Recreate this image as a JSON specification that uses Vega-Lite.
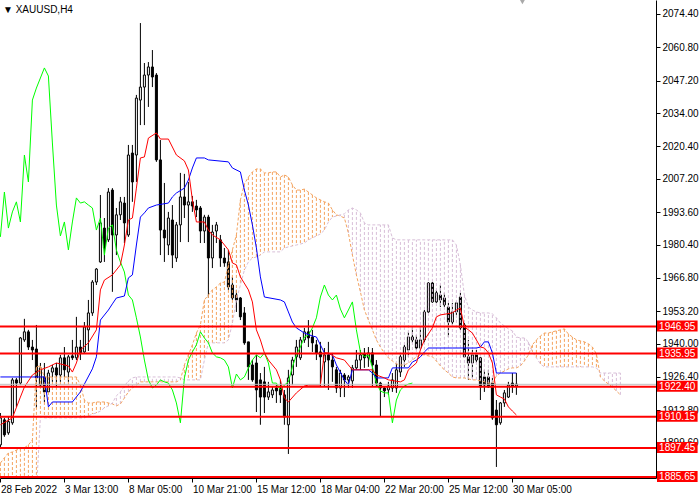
{
  "$schema": "https://vega.github.io/schema/vega-lite/v6.json",
  "width": 656,
  "height": 478,
  "autosize": {"type": "none"},
  "padding": {"left": 0, "top": 0, "right": 44, "bottom": 22},
  "background": "white",
  "datasets": {
    "bars": [
      {"i":0,"o":1898.7,"h":1911.7,"l":1897.5,"c":1909.7},{"i":1,"o":1908.9,"h":1909.7,"l":1902.0,"c":1902.8},{"i":2,"o":1903.6,"h":1910.2,"l":1902.8,"c":1908.2},{"i":3,"o":1907.7,"h":1926.0,"l":1906.9,"c":1925.2},{"i":4,"o":1925.2,"h":1926.0,"l":1914.2,"c":1923.9},
      {"i":5,"o":1923.9,"h":1942.7,"l":1923.1,"c":1942.3},{"i":6,"o":1941.5,"h":1950.1,"l":1940.7,"c":1944.8},{"i":7,"o":1944.8,"h":1945.6,"l":1937.4,"c":1938.6},{"i":8,"o":1938.6,"h":1941.5,"l":1933.3,"c":1937.4},{"i":9,"o":1937.8,"h":1947.6,"l":1913.8,"c":1926.0},
      {"i":10,"o":1923.1,"h":1932.1,"l":1922.3,"c":1930.1},{"i":11,"o":1926.4,"h":1932.1,"l":1916.2,"c":1920.3},{"i":12,"o":1920.3,"h":1929.3,"l":1919.9,"c":1928.0},{"i":13,"o":1928.4,"h":1931.3,"l":1924.4,"c":1930.1},{"i":14,"o":1930.1,"h":1932.1,"l":1922.3,"c":1927.2},
      {"i":15,"o":1927.2,"h":1935.4,"l":1924.4,"c":1934.2},{"i":16,"o":1934.2,"h":1938.6,"l":1926.4,"c":1929.3},{"i":17,"o":1928.4,"h":1935.4,"l":1924.4,"c":1934.6},{"i":18,"o":1935.0,"h":1941.5,"l":1933.3,"c":1934.2},{"i":19,"o":1934.2,"h":1950.9,"l":1933.3,"c":1938.6},
      {"i":20,"o":1938.6,"h":1941.5,"l":1933.3,"c":1936.2},{"i":21,"o":1936.6,"h":1948.8,"l":1936.2,"c":1946.8},{"i":22,"o":1945.6,"h":1957.8,"l":1937.0,"c":1952.5},{"i":23,"o":1952.5,"h":1965.9,"l":1951.3,"c":1965.1},{"i":24,"o":1965.1,"h":1970.8,"l":1963.9,"c":1970.4},
      {"i":25,"o":1973.3,"h":2000.6,"l":1972.9,"c":1989.2},{"i":26,"o":1987.1,"h":1991.2,"l":1973.3,"c":1979.0},{"i":27,"o":1982.3,"h":2003.4,"l":1981.4,"c":2001.8},{"i":28,"o":2002.6,"h":2003.4,"l":1961.1,"c":1984.3},{"i":29,"o":1984.3,"h":1995.3,"l":1976.1,"c":1992.5},
      {"i":30,"o":1992.5,"h":1999.8,"l":1990.4,"c":1997.8},{"i":31,"o":1997.3,"h":1999.8,"l":1981.0,"c":1989.2},{"i":32,"o":1984.3,"h":2021.0,"l":1983.5,"c":2016.9},{"i":33,"o":2017.7,"h":2021.0,"l":1997.8,"c":2005.9},{"i":34,"o":2016.9,"h":2041.4,"l":2005.9,"c":2040.1},
      {"i":35,"o":2039.3,"h":2070.7,"l":2029.1,"c":2044.6},{"i":36,"o":2044.6,"h":2054.4,"l":2029.1,"c":2049.5},{"i":37,"o":2049.5,"h":2054.8,"l":2036.5,"c":2052.8},{"i":38,"o":2052.8,"h":2059.7,"l":2044.6,"c":2048.7},{"i":39,"o":2049.5,"h":2050.3,"l":2014.1,"c":2014.9},
      {"i":40,"o":2014.9,"h":2023.0,"l":1976.1,"c":1986.3},{"i":41,"o":1986.3,"h":2005.5,"l":1973.3,"c":1983.1},{"i":42,"o":1980.2,"h":1993.7,"l":1976.1,"c":1991.2},{"i":43,"o":1990.4,"h":1996.5,"l":1970.8,"c":1976.1},{"i":44,"o":1974.9,"h":1989.6,"l":1973.3,"c":1988.4},
      {"i":45,"o":1988.4,"h":2009.6,"l":1981.4,"c":1999.8},{"i":46,"o":1999.8,"h":2009.2,"l":1991.2,"c":1996.5},{"i":47,"o":1996.5,"h":2005.9,"l":1981.4,"c":1997.8},{"i":48,"o":1997.8,"h":2000.2,"l":1993.7,"c":1996.1},{"i":49,"o":1996.1,"h":1998.6,"l":1991.6,"c":1994.5},
      {"i":50,"o":1995.3,"h":1996.1,"l":1981.0,"c":1985.9},{"i":51,"o":1985.9,"h":1992.5,"l":1981.0,"c":1991.6},{"i":52,"o":1991.6,"h":1992.5,"l":1958.6,"c":1974.9},{"i":53,"o":1974.9,"h":1988.4,"l":1970.8,"c":1985.5},{"i":54,"o":1985.9,"h":1989.6,"l":1981.0,"c":1988.4},
      {"i":55,"o":1982.3,"h":1984.3,"l":1971.3,"c":1974.9},{"i":56,"o":1974.9,"h":1979.0,"l":1971.3,"c":1972.9},{"i":57,"o":1973.3,"h":1978.2,"l":1961.9,"c":1963.1},{"i":58,"o":1963.9,"h":1967.2,"l":1957.8,"c":1958.6},{"i":59,"o":1959.8,"h":1961.9,"l":1952.9,"c":1957.8},
      {"i":60,"o":1958.6,"h":1959.0,"l":1949.6,"c":1950.9},{"i":61,"o":1952.5,"h":1954.9,"l":1939.5,"c":1940.3},{"i":62,"o":1940.7,"h":1940.7,"l":1925.2,"c":1930.5},{"i":63,"o":1931.3,"h":1933.3,"l":1924.4,"c":1925.2},{"i":64,"o":1932.1,"h":1935.4,"l":1912.1,"c":1921.1},
      {"i":65,"o":1925.2,"h":1928.0,"l":1906.9,"c":1918.2},{"i":66,"o":1924.4,"h":1930.5,"l":1911.7,"c":1918.2},{"i":67,"o":1918.2,"h":1924.4,"l":1917.0,"c":1920.3},{"i":68,"o":1919.1,"h":1922.3,"l":1917.8,"c":1921.1},{"i":69,"o":1921.9,"h":1923.1,"l":1915.8,"c":1920.7},
      {"i":70,"o":1921.9,"h":1925.2,"l":1915.8,"c":1919.1},{"i":71,"o":1919.1,"h":1921.1,"l":1906.9,"c":1910.1},{"i":72,"o":1906.9,"h":1929.3,"l":1895.0,"c":1926.0},{"i":73,"o":1927.2,"h":1934.6,"l":1923.1,"c":1933.3},{"i":74,"o":1934.6,"h":1941.5,"l":1930.5,"c":1938.6},
      {"i":75,"o":1934.2,"h":1942.7,"l":1933.3,"c":1941.5},{"i":76,"o":1941.5,"h":1946.4,"l":1940.3,"c":1944.8},{"i":77,"o":1944.8,"h":1949.6,"l":1938.6,"c":1942.3},{"i":78,"o":1942.7,"h":1945.6,"l":1936.6,"c":1940.3},{"i":79,"o":1939.5,"h":1941.5,"l":1933.3,"c":1936.2},
      {"i":80,"o":1936.6,"h":1940.7,"l":1922.3,"c":1934.6},{"i":81,"o":1932.5,"h":1938.2,"l":1922.3,"c":1935.4},{"i":82,"o":1935.4,"h":1940.7,"l":1921.1,"c":1933.3},{"i":83,"o":1933.3,"h":1936.2,"l":1924.4,"c":1930.5},{"i":84,"o":1929.3,"h":1930.5,"l":1919.9,"c":1921.9},
      {"i":85,"o":1921.9,"h":1929.3,"l":1918.2,"c":1928.0},{"i":86,"o":1927.2,"h":1928.0,"l":1918.2,"c":1925.2},{"i":87,"o":1925.2,"h":1927.2,"l":1921.9,"c":1926.4},{"i":88,"o":1924.8,"h":1931.3,"l":1921.9,"c":1930.1},{"i":89,"o":1930.1,"h":1937.4,"l":1929.3,"c":1933.3},
      {"i":90,"o":1933.3,"h":1937.4,"l":1929.3,"c":1935.4},{"i":91,"o":1935.8,"h":1938.2,"l":1930.1,"c":1934.2},{"i":92,"o":1934.2,"h":1938.6,"l":1930.5,"c":1936.2},{"i":93,"o":1936.2,"h":1938.2,"l":1922.3,"c":1931.3},{"i":94,"o":1931.3,"h":1933.3,"l":1922.3,"c":1923.9},
      {"i":95,"o":1923.9,"h":1924.4,"l":1910.1,"c":1921.9},{"i":96,"o":1921.9,"h":1922.3,"l":1918.2,"c":1920.7},{"i":97,"o":1921.1,"h":1924.4,"l":1919.1,"c":1922.7},{"i":98,"o":1921.9,"h":1928.0,"l":1920.3,"c":1925.2},{"i":99,"o":1921.9,"h":1932.1,"l":1919.9,"c":1929.3},
      {"i":100,"o":1928.4,"h":1936.2,"l":1926.4,"c":1934.6},{"i":101,"o":1933.3,"h":1939.5,"l":1930.5,"c":1938.6},{"i":102,"o":1937.4,"h":1944.8,"l":1934.6,"c":1942.7},{"i":103,"o":1942.7,"h":1946.8,"l":1940.3,"c":1941.5},{"i":104,"o":1941.5,"h":1943.5,"l":1937.4,"c":1938.2},
      {"i":105,"o":1938.2,"h":1946.8,"l":1937.4,"c":1941.5},{"i":106,"o":1941.5,"h":1953.7,"l":1940.3,"c":1952.9},{"i":107,"o":1952.9,"h":1965.1,"l":1952.5,"c":1964.7},{"i":108,"o":1964.7,"h":1965.1,"l":1956.6,"c":1957.0},{"i":109,"o":1957.0,"h":1961.9,"l":1956.6,"c":1960.7},
      {"i":110,"o":1959.8,"h":1963.9,"l":1954.9,"c":1957.8},{"i":111,"o":1958.6,"h":1960.7,"l":1954.9,"c":1955.8},{"i":112,"o":1954.9,"h":1956.6,"l":1942.7,"c":1948.8},{"i":113,"o":1948.8,"h":1956.6,"l":1947.6,"c":1952.9},{"i":114,"o":1952.9,"h":1957.0,"l":1951.7,"c":1956.6},
      {"i":115,"o":1959.0,"h":1960.7,"l":1945.6,"c":1946.4},{"i":116,"o":1947.6,"h":1948.4,"l":1934.2,"c":1934.6},{"i":117,"o":1934.6,"h":1941.5,"l":1925.2,"c":1932.1},{"i":118,"o":1932.1,"h":1937.4,"l":1926.0,"c":1935.4},{"i":119,"o":1935.4,"h":1937.4,"l":1932.1,"c":1933.3},
      {"i":120,"o":1934.2,"h":1934.6,"l":1917.0,"c":1922.3},{"i":121,"o":1926.4,"h":1929.3,"l":1920.3,"c":1923.1},{"i":122,"o":1926.4,"h":1929.3,"l":1921.9,"c":1922.3},{"i":123,"o":1923.9,"h":1926.0,"l":1908.9,"c":1909.7},{"i":124,"o":1912.9,"h":1917.0,"l":1889.7,"c":1906.9},
      {"i":125,"o":1907.7,"h":1916.2,"l":1906.9,"c":1915.8},{"i":126,"o":1915.8,"h":1921.1,"l":1914.2,"c":1919.9},{"i":127,"o":1918.2,"h":1924.4,"l":1917.8,"c":1923.1},{"i":128,"o":1923.9,"h":1928.0,"l":1919.9,"c":1922.7},{"i":129,"o":1922.7,"h":1928.0,"l":1919.1,"c":1923.5}
    ],
    "cloud": [
      {"i":0,"a":1891.3,"b":1879.5},{"i":1,"a":1893.4,"b":1879.5},{"i":2,"a":1895.4,"b":1879.5},{"i":3,"a":1895.8,"b":1879.5},{"i":4,"a":1896.6,"b":1879.5},{"i":5,"a":1897.1,"b":1879.5},{"i":6,"a":1897.5,"b":1879.5},{"i":7,"a":1898.7,"b":1879.5},{"i":8,"a":1900.7,"b":1879.5},{"i":9,"a":1930.5,"b":1879.5},
      {"i":10,"a":1930.9,"b":1910.1},{"i":11,"a":1926.4,"b":1909.7},{"i":12,"a":1926.4,"b":1909.7},{"i":13,"a":1926.4,"b":1909.7},{"i":14,"a":1926.4,"b":1909.7},{"i":15,"a":1926.4,"b":1909.7},{"i":16,"a":1926.4,"b":1909.7},{"i":17,"a":1926.4,"b":1909.7},{"i":18,"a":1926.4,"b":1909.7},{"i":19,"a":1926.4,"b":1909.7},
      {"i":20,"a":1923.1,"b":1909.7},{"i":21,"a":1917.0,"b":1909.7},{"i":22,"a":1915.8,"b":1910.5},{"i":23,"a":1915.8,"b":1911.3},{"i":24,"a":1916.2,"b":1911.7},{"i":25,"a":1916.2,"b":1912.5},{"i":26,"a":1916.2,"b":1913.8},{"i":27,"a":1915.8,"b":1914.6},{"i":28,"a":1915.4,"b":1915.8},{"i":29,"a":1914.6,"b":1918.7},
      {"i":30,"a":1915.4,"b":1920.3},{"i":31,"a":1917.8,"b":1922.7},{"i":32,"a":1920.3,"b":1924.8},{"i":33,"a":1921.9,"b":1926.0},{"i":34,"a":1923.1,"b":1926.4},{"i":35,"a":1924.4,"b":1926.4},{"i":36,"a":1924.4,"b":1926.4},{"i":37,"a":1924.4,"b":1926.4},{"i":38,"a":1924.4,"b":1926.4},{"i":39,"a":1924.4,"b":1926.4},
      {"i":40,"a":1924.4,"b":1926.4},{"i":41,"a":1924.4,"b":1926.4},{"i":42,"a":1924.4,"b":1926.4},{"i":43,"a":1924.4,"b":1926.4},{"i":44,"a":1924.4,"b":1926.4},{"i":45,"a":1925.2,"b":1926.0},{"i":46,"a":1931.3,"b":1925.2},{"i":47,"a":1935.4,"b":1925.2},{"i":48,"a":1939.5,"b":1925.2},{"i":49,"a":1944.3,"b":1925.2},
      {"i":50,"a":1947.6,"b":1925.2},{"i":51,"a":1957.8,"b":1933.3},{"i":52,"a":1959.8,"b":1940.3},{"i":53,"a":1961.9,"b":1940.3},{"i":54,"a":1963.1,"b":1940.3},{"i":55,"a":1964.7,"b":1940.3},{"i":56,"a":1965.1,"b":1940.3},{"i":57,"a":1972.1,"b":1941.5},{"i":58,"a":1978.2,"b":1948.4},{"i":59,"a":1984.3,"b":1957.8},
      {"i":60,"a":1998.6,"b":1963.9},{"i":61,"a":2005.1,"b":1970.0},{"i":62,"a":2007.9,"b":1973.3},{"i":63,"a":2010.0,"b":1974.9},{"i":64,"a":2011.2,"b":1975.3},{"i":65,"a":2011.2,"b":1976.1},{"i":66,"a":2009.6,"b":1977.4},{"i":67,"a":2009.6,"b":1977.4},{"i":68,"a":2010.0,"b":1977.4},{"i":69,"a":2010.0,"b":1977.4},
      {"i":70,"a":2007.9,"b":1977.4},{"i":71,"a":2008.8,"b":1979.0},{"i":72,"a":2007.9,"b":1979.4},{"i":73,"a":2004.7,"b":1979.8},{"i":74,"a":2002.6,"b":1980.2},{"i":75,"a":2002.6,"b":1980.6},{"i":76,"a":2003.0,"b":1981.0},{"i":77,"a":2001.8,"b":1982.3},{"i":78,"a":2000.6,"b":1983.1},{"i":79,"a":1999.4,"b":1983.9},
      {"i":80,"a":1998.6,"b":1984.7},{"i":81,"a":1997.8,"b":1986.3},{"i":82,"a":1997.3,"b":1989.6},{"i":83,"a":1994.5,"b":1991.6},{"i":84,"a":1992.5,"b":1992.0},{"i":85,"a":1992.0,"b":1992.5},{"i":86,"a":1991.2,"b":1992.9},{"i":87,"a":1985.1,"b":1994.5},{"i":88,"a":1976.1,"b":1995.3},{"i":89,"a":1968.0,"b":1994.5},
      {"i":90,"a":1961.1,"b":1993.3},{"i":91,"a":1953.7,"b":1989.2},{"i":92,"a":1949.6,"b":1988.4},{"i":93,"a":1945.6,"b":1988.4},{"i":94,"a":1941.5,"b":1988.4},{"i":95,"a":1938.6,"b":1988.4},{"i":96,"a":1936.2,"b":1988.4},{"i":97,"a":1934.2,"b":1988.4},{"i":98,"a":1932.9,"b":1983.1},{"i":99,"a":1931.7,"b":1982.3},
      {"i":100,"a":1931.3,"b":1982.3},{"i":101,"a":1931.3,"b":1982.3},{"i":102,"a":1932.1,"b":1982.3},{"i":103,"a":1933.3,"b":1982.3},{"i":104,"a":1934.6,"b":1982.3},{"i":105,"a":1935.4,"b":1982.3},{"i":106,"a":1935.4,"b":1982.3},{"i":107,"a":1935.0,"b":1982.3},{"i":108,"a":1934.6,"b":1982.3},{"i":109,"a":1932.9,"b":1982.3},
      {"i":110,"a":1930.9,"b":1982.3},{"i":111,"a":1929.3,"b":1982.3},{"i":112,"a":1928.0,"b":1982.3},{"i":113,"a":1926.4,"b":1982.3},{"i":114,"a":1926.0,"b":1980.2},{"i":115,"a":1926.0,"b":1972.1},{"i":116,"a":1926.0,"b":1959.8},{"i":117,"a":1925.6,"b":1954.9},{"i":118,"a":1925.2,"b":1953.7},{"i":119,"a":1925.2,"b":1952.9},
      {"i":120,"a":1924.8,"b":1952.5},{"i":121,"a":1924.4,"b":1952.5},{"i":122,"a":1923.9,"b":1952.5},{"i":123,"a":1923.9,"b":1952.1},{"i":124,"a":1926.8,"b":1950.5},{"i":125,"a":1928.0,"b":1948.4},{"i":126,"a":1928.8,"b":1947.2},{"i":127,"a":1929.7,"b":1946.0},{"i":128,"a":1930.1,"b":1945.2},{"i":129,"a":1930.1,"b":1942.7},
      {"i":130,"a":1930.9,"b":1942.3},{"i":131,"a":1932.9,"b":1942.3},{"i":132,"a":1935.4,"b":1940.7},{"i":133,"a":1939.5,"b":1936.6},{"i":134,"a":1941.5,"b":1934.2},{"i":135,"a":1943.1,"b":1931.7},{"i":136,"a":1944.3,"b":1930.5},{"i":137,"a":1944.3,"b":1930.5},{"i":138,"a":1944.8,"b":1930.5},{"i":139,"a":1945.2,"b":1930.5},
      {"i":140,"a":1945.6,"b":1930.5},{"i":141,"a":1946.0,"b":1930.5},{"i":142,"a":1943.9,"b":1930.5},{"i":143,"a":1942.7,"b":1930.5},{"i":144,"a":1941.5,"b":1930.5},{"i":145,"a":1941.1,"b":1930.5},{"i":146,"a":1940.7,"b":1930.5},{"i":147,"a":1939.9,"b":1930.5},{"i":148,"a":1938.6,"b":1930.5},{"i":149,"a":1935.8,"b":1930.1},
      {"i":150,"a":1926.4,"b":1928.0},{"i":151,"a":1924.8,"b":1928.0},{"i":152,"a":1923.5,"b":1928.0},{"i":153,"a":1922.3,"b":1928.0},{"i":154,"a":1920.7,"b":1928.0},{"i":155,"a":1919.1,"b":1928.0}
    ],
    "tenkan": [
      {"i":0,"v":1906.9},{"i":3,"v":1909.7},{"i":5,"v":1918.2},{"i":6,"v":1922.3},{"i":8,"v":1927.2},{"i":10,"v":1929.3},{"i":12,"v":1930.5},{"i":14,"v":1932.1},{"i":17,"v":1930.9},{"i":18,"v":1928.4},
      {"i":19,"v":1932.1},{"i":20,"v":1937.4},{"i":22,"v":1940.3},{"i":24,"v":1945.6},{"i":25,"v":1961.9},{"i":26,"v":1965.9},{"i":28,"v":1968.0},{"i":30,"v":1972.1},{"i":31,"v":1980.2},{"i":32,"v":1990.4},
      {"i":33,"v":1991.2},{"i":34,"v":2003.4},{"i":35,"v":2015.7},{"i":36,"v":2016.1},{"i":37,"v":2023.8},{"i":39,"v":2025.9},{"i":40,"v":2023.4},{"i":42,"v":2023.4},{"i":44,"v":2016.9},{"i":46,"v":2014.5},
      {"i":47,"v":2010.8},{"i":48,"v":1998.6},{"i":49,"v":1989.6},{"i":51,"v":1989.6},{"i":52,"v":1986.3},{"i":53,"v":1984.3},{"i":55,"v":1982.3},{"i":57,"v":1978.2},{"i":58,"v":1972.9},{"i":59,"v":1972.1},
      {"i":60,"v":1967.2},{"i":62,"v":1961.9},{"i":63,"v":1957.0},{"i":64,"v":1945.6},{"i":65,"v":1941.5},{"i":66,"v":1936.2},{"i":67,"v":1933.3},{"i":69,"v":1929.3},{"i":70,"v":1925.2},{"i":71,"v":1917.8},
      {"i":72,"v":1916.2},{"i":74,"v":1919.9},{"i":76,"v":1922.7},{"i":77,"v":1923.1},{"i":80,"v":1923.1},{"i":81,"v":1936.2},{"i":82,"v":1936.2},{"i":84,"v":1934.2},{"i":86,"v":1933.3},{"i":87,"v":1931.3},
      {"i":88,"v":1929.3},{"i":93,"v":1929.3},{"i":94,"v":1927.2},{"i":96,"v":1926.0},{"i":97,"v":1925.2},{"i":100,"v":1924.4},{"i":101,"v":1925.2},{"i":102,"v":1929.3},{"i":104,"v":1932.1},{"i":105,"v":1937.4},
      {"i":106,"v":1941.5},{"i":108,"v":1946.4},{"i":109,"v":1950.9},{"i":110,"v":1951.7},{"i":113,"v":1952.5},{"i":114,"v":1953.7},{"i":115,"v":1954.5},{"i":116,"v":1946.8},{"i":117,"v":1945.6},{"i":118,"v":1944.3},
      {"i":119,"v":1941.5},{"i":120,"v":1938.6},{"i":121,"v":1938.2},{"i":122,"v":1936.2},{"i":123,"v":1932.1},{"i":124,"v":1919.1},{"i":125,"v":1918.2},{"i":126,"v":1917.4},{"i":127,"v":1914.2},{"i":128,"v":1912.5},{"i":129,"v":1910.9}
    ],
    "kijun": [
      {"i":0,"v":1926.4},{"i":11,"v":1926.4},{"i":12,"v":1914.2},{"i":13,"v":1916.2},{"i":18,"v":1916.2},{"i":20,"v":1920.3},{"i":21,"v":1923.5},{"i":23,"v":1929.7},{"i":24,"v":1934.6},{"i":25,"v":1949.6},
      {"i":27,"v":1953.7},{"i":28,"v":1956.2},{"i":29,"v":1958.6},{"i":31,"v":1959.4},{"i":32,"v":1966.8},{"i":33,"v":1968.0},{"i":34,"v":1980.2},{"i":35,"v":1991.6},{"i":36,"v":1993.3},{"i":37,"v":1995.3},
      {"i":39,"v":1996.5},{"i":42,"v":1997.3},{"i":43,"v":1999.8},{"i":44,"v":2001.4},{"i":46,"v":2003.4},{"i":47,"v":2006.7},{"i":48,"v":2011.6},{"i":49,"v":2015.7},{"i":51,"v":2015.7},{"i":52,"v":2014.9},
      {"i":57,"v":2014.1},{"i":58,"v":2011.6},{"i":60,"v":2010.0},{"i":61,"v":2002.6},{"i":62,"v":1996.5},{"i":63,"v":1988.4},{"i":64,"v":1979.0},{"i":65,"v":1967.2},{"i":66,"v":1959.0},{"i":70,"v":1957.8},
      {"i":71,"v":1957.0},{"i":72,"v":1952.9},{"i":73,"v":1948.8},{"i":74,"v":1946.4},{"i":76,"v":1944.3},{"i":78,"v":1943.1},{"i":79,"v":1942.7},{"i":80,"v":1939.5},{"i":81,"v":1936.2},{"i":83,"v":1935.4},
      {"i":84,"v":1931.3},{"i":86,"v":1925.2},{"i":87,"v":1923.1},{"i":88,"v":1929.3},{"i":92,"v":1929.3},{"i":93,"v":1928.0},{"i":94,"v":1926.0},{"i":97,"v":1926.0},{"i":98,"v":1930.1},{"i":102,"v":1930.1},
      {"i":103,"v":1932.5},{"i":104,"v":1933.3},{"i":105,"v":1934.6},{"i":106,"v":1936.6},{"i":107,"v":1938.2},{"i":119,"v":1938.2},{"i":120,"v":1938.6},{"i":121,"v":1940.7},{"i":122,"v":1940.7},{"i":123,"v":1936.2},
      {"i":124,"v":1928.0},{"i":129,"v":1928.0}
    ],
    "chikou": [
      {"i":0,"v":1983.5},{"i":1,"v":2001.8},{"i":2,"v":1987.1},{"i":3,"v":1993.7},{"i":4,"v":1997.8},{"i":5,"v":1989.6},{"i":6,"v":2016.9},{"i":7,"v":2005.9},{"i":8,"v":2039.3},{"i":9,"v":2044.2},
      {"i":10,"v":2048.3},{"i":11,"v":2052.4},{"i":12,"v":2049.1},{"i":13,"v":2021.8},{"i":14,"v":1996.5},{"i":15,"v":1983.9},{"i":16,"v":1989.6},{"i":17,"v":1978.2},{"i":18,"v":1989.6},{"i":19,"v":1999.4},
      {"i":20,"v":1997.3},{"i":21,"v":1997.8},{"i":22,"v":1996.5},{"i":23,"v":1995.3},{"i":24,"v":1986.3},{"i":25,"v":1991.2},{"i":26,"v":1976.1},{"i":27,"v":1987.1},{"i":28,"v":1988.4},{"i":29,"v":1978.2},
      {"i":30,"v":1973.3},{"i":31,"v":1969.2},{"i":32,"v":1959.8},{"i":33,"v":1957.8},{"i":34,"v":1950.5},{"i":35,"v":1942.7},{"i":36,"v":1933.3},{"i":37,"v":1925.2},{"i":38,"v":1921.9},{"i":39,"v":1923.1},
      {"i":40,"v":1925.2},{"i":41,"v":1924.4},{"i":42,"v":1923.9},{"i":43,"v":1921.1},{"i":44,"v":1915.8},{"i":45,"v":1907.7},{"i":46,"v":1926.0},{"i":47,"v":1933.3},{"i":48,"v":1936.6},{"i":49,"v":1939.5},
      {"i":50,"v":1944.8},{"i":51,"v":1942.3},{"i":52,"v":1940.3},{"i":53,"v":1936.2},{"i":54,"v":1934.6},{"i":55,"v":1934.2},{"i":56,"v":1933.3},{"i":57,"v":1930.5},{"i":58,"v":1921.9},{"i":59,"v":1927.6},
      {"i":60,"v":1925.2},{"i":61,"v":1926.4},{"i":62,"v":1930.1},{"i":63,"v":1933.3},{"i":64,"v":1935.4},{"i":65,"v":1934.2},{"i":66,"v":1936.2},{"i":67,"v":1932.1},{"i":68,"v":1923.9},{"i":69,"v":1923.9},
      {"i":70,"v":1921.1},{"i":71,"v":1923.1},{"i":72,"v":1924.4},{"i":73,"v":1930.5},{"i":74,"v":1935.4},{"i":75,"v":1938.6},{"i":76,"v":1942.7},{"i":77,"v":1943.5},{"i":78,"v":1946.4},{"i":79,"v":1950.5},
      {"i":80,"v":1959.0},{"i":81,"v":1963.9},{"i":82,"v":1959.8},{"i":83,"v":1957.8},{"i":84,"v":1959.8},{"i":85,"v":1954.1},{"i":86,"v":1950.5},{"i":87,"v":1953.7},{"i":88,"v":1957.0},{"i":89,"v":1945.6},
      {"i":90,"v":1936.6},{"i":91,"v":1934.6},{"i":92,"v":1935.4},{"i":93,"v":1930.5},{"i":94,"v":1923.9},{"i":95,"v":1920.7},{"i":96,"v":1919.9},{"i":97,"v":1919.9},{"i":98,"v":1907.7},{"i":99,"v":1917.0},
      {"i":100,"v":1921.1},{"i":101,"v":1922.7},{"i":102,"v":1923.5},{"i":103,"v":1923.9}
    ],
    "levels": [
      {"p":1946.95},{"p":1935.95},{"p":1922.40},{"p":1910.15},{"p":1897.45},{"p":1885.65}
    ],
    "bid": [{"p":1923.4}],
    "caption": [{"t":"▼ XAUUSD,H4"}],
    "marker": [{"i":130.5,"p":2079.6}]
  },
  "layer": [
    {
      "data": {"name": "bars"},
      "mark": {"type": "rule", "color": "black", "strokeWidth": 1, "clip": true},
      "encoding": {
        "x": {"field": "i", "type": "quantitative", "title": null, "scale": {"domain": [-0.1, 163.9], "nice": false, "zero": false, "padding": 0},
          "axis": {"orient": "bottom", "values": [0, 16, 32, 48, 64, 80, 96, 112, 128], "tickCount": 20, "labelOverlap": false,
            "labelExpr": "['28 Feb 2022','3 Mar 13:00','8 Mar 05:00','10 Mar 21:00','15 Mar 12:00','18 Mar 04:00','22 Mar 20:00','25 Mar 12:00','30 Mar 05:00'][round(datum.value/16)]"}},
        "y": {"field": "l", "type": "quantitative", "title": null, "scale": {"domain": [1885.2, 2080.1], "nice": false, "zero": false, "padding": 0},
          "axis": {"orient": "right", "values": [2074.4, 2060.8, 2047.2, 2034.0, 2020.4, 2007.2, 1993.6, 1980.4, 1966.8, 1953.2, 1940.0, 1926.4, 1912.8, 1899.6], "tickCount": 30, "format": ".2f", "labelOverlap": false}},
        "y2": {"field": "h"}
      }
    },
    {
      "data": {"name": "bars"},
      "mark": {"type": "bar", "width": 2, "stroke": "black", "strokeWidth": 1, "clip": true},
      "encoding": {
        "x": {"field": "i", "type": "quantitative", "title": null, "scale": {"domain": [-0.1, 163.9], "nice": false, "zero": false, "padding": 0}},
        "y": {"field": "o", "type": "quantitative", "title": null, "scale": {"domain": [1885.2, 2080.1], "nice": false, "zero": false, "padding": 0}, "axis": {"orient": "right"}},
        "y2": {"field": "c"},
        "fill": {"condition": {"test": "datum.c >= datum.o", "value": "white"}, "value": "black"}
      }
    },
    {
      "data": {"name": "cloud"},
      "mark": {"type": "rule", "strokeWidth": 1, "strokeDash": [3, 2], "clip": true},
      "encoding": {
        "x": {"field": "i", "type": "quantitative", "title": null, "scale": {"domain": [-0.1, 163.9], "nice": false, "zero": false, "padding": 0}},
        "y": {"field": "a", "type": "quantitative", "title": null, "scale": {"domain": [1885.2, 2080.1], "nice": false, "zero": false, "padding": 0}, "axis": {"orient": "right"}},
        "y2": {"field": "b"},
        "color": {"condition": {"test": "datum.a > datum.b", "value": "#F4A460"}, "value": "#D8BFD8"}
      }
    },
    {
      "data": {"name": "cloud"},
      "mark": {"type": "line", "color": "#F4A460", "strokeWidth": 1, "strokeDash": [3, 2], "clip": true},
      "encoding": {
        "x": {"field": "i", "type": "quantitative", "title": null, "scale": {"domain": [-0.1, 163.9], "nice": false, "zero": false, "padding": 0}},
        "y": {"field": "a", "type": "quantitative", "title": null, "scale": {"domain": [1885.2, 2080.1], "nice": false, "zero": false, "padding": 0}, "axis": {"orient": "right"}}
      }
    },
    {
      "data": {"name": "cloud"},
      "mark": {"type": "line", "color": "#D8BFD8", "strokeWidth": 1, "strokeDash": [3, 2], "clip": true},
      "encoding": {
        "x": {"field": "i", "type": "quantitative", "title": null, "scale": {"domain": [-0.1, 163.9], "nice": false, "zero": false, "padding": 0}},
        "y": {"field": "b", "type": "quantitative", "title": null, "scale": {"domain": [1885.2, 2080.1], "nice": false, "zero": false, "padding": 0}, "axis": {"orient": "right"}}
      }
    },
    {
      "data": {"name": "chikou"},
      "mark": {"type": "line", "color": "#00FF00", "strokeWidth": 1, "clip": true},
      "encoding": {
        "x": {"field": "i", "type": "quantitative", "title": null, "scale": {"domain": [-0.1, 163.9], "nice": false, "zero": false, "padding": 0}},
        "y": {"field": "v", "type": "quantitative", "title": null, "scale": {"domain": [1885.2, 2080.1], "nice": false, "zero": false, "padding": 0}, "axis": {"orient": "right"}}
      }
    },
    {
      "data": {"name": "kijun"},
      "mark": {"type": "line", "color": "#0000FF", "strokeWidth": 1, "clip": true},
      "encoding": {
        "x": {"field": "i", "type": "quantitative", "title": null, "scale": {"domain": [-0.1, 163.9], "nice": false, "zero": false, "padding": 0}},
        "y": {"field": "v", "type": "quantitative", "title": null, "scale": {"domain": [1885.2, 2080.1], "nice": false, "zero": false, "padding": 0}, "axis": {"orient": "right"}}
      }
    },
    {
      "data": {"name": "tenkan"},
      "mark": {"type": "line", "color": "#FF0000", "strokeWidth": 1, "clip": true},
      "encoding": {
        "x": {"field": "i", "type": "quantitative", "title": null, "scale": {"domain": [-0.1, 163.9], "nice": false, "zero": false, "padding": 0}},
        "y": {"field": "v", "type": "quantitative", "title": null, "scale": {"domain": [1885.2, 2080.1], "nice": false, "zero": false, "padding": 0}, "axis": {"orient": "right"}}
      }
    },
    {
      "data": {"name": "bid"},
      "mark": {"type": "rule", "color": "#C0C0C0", "strokeWidth": 1},
      "encoding": {
        "y": {"field": "p", "type": "quantitative", "title": null, "scale": {"domain": [1885.2, 2080.1], "nice": false, "zero": false, "padding": 0}, "axis": {"orient": "right"}}
      }
    },
    {
      "data": {"name": "levels"},
      "mark": {"type": "rule", "color": "#FF0000", "strokeWidth": 2},
      "encoding": {
        "y": {"field": "p", "type": "quantitative", "title": null, "scale": {"domain": [1885.2, 2080.1], "nice": false, "zero": false, "padding": 0}, "axis": {"orient": "right"}}
      }
    },
    {
      "data": {"name": "levels"},
      "mark": {"type": "rect", "color": "#FF0000", "yOffset": -6, "y2Offset": 5},
      "encoding": {
        "x": {"datum": 164.15, "type": "quantitative", "title": null, "scale": {"domain": [-0.1, 163.9], "nice": false, "zero": false, "padding": 0}},
        "x2": {"datum": 174.3},
        "y": {"field": "p", "type": "quantitative", "title": null, "scale": {"domain": [1885.2, 2080.1], "nice": false, "zero": false, "padding": 0}, "axis": {"orient": "right"}},
        "y2": {"field": "p"}
      }
    },
    {
      "data": {"name": "levels"},
      "mark": {"type": "text", "color": "white", "font": "Liberation Sans", "fontSize": 10, "align": "center", "baseline": "middle"},
      "encoding": {
        "x": {"datum": 169.2, "type": "quantitative", "title": null, "scale": {"domain": [-0.1, 163.9], "nice": false, "zero": false, "padding": 0}},
        "y": {"field": "p", "type": "quantitative", "title": null, "scale": {"domain": [1885.2, 2080.1], "nice": false, "zero": false, "padding": 0}, "axis": {"orient": "right"}},
        "text": {"field": "p", "type": "quantitative", "format": ".2f"}
      }
    },
    {
      "data": {"name": "marker"},
      "mark": {"type": "point", "shape": "triangle-down", "filled": true, "color": "#A9A9A9", "size": 45, "opacity": 1},
      "encoding": {
        "x": {"field": "i", "type": "quantitative", "title": null, "scale": {"domain": [-0.1, 163.9], "nice": false, "zero": false, "padding": 0}},
        "y": {"field": "p", "type": "quantitative", "title": null, "scale": {"domain": [1885.2, 2080.1], "nice": false, "zero": false, "padding": 0}, "axis": {"orient": "right"}}
      }
    },
    {
      "data": {"name": "caption"},
      "mark": {"type": "text", "color": "black", "font": "Liberation Sans", "fontSize": 10, "align": "left", "baseline": "alphabetic"},
      "encoding": {
        "x": {"datum": 0.65, "type": "quantitative", "title": null, "scale": {"domain": [-0.1, 163.9], "nice": false, "zero": false, "padding": 0}},
        "y": {"datum": 2074.8, "type": "quantitative", "title": null, "scale": {"domain": [1885.2, 2080.1], "nice": false, "zero": false, "padding": 0}, "axis": {"orient": "right"}},
        "text": {"field": "t", "type": "nominal"}
      }
    }
  ],
  "config": {
    "view": {"stroke": null},
    "scale": {"continuousPadding": 0},
    "axis": {"zindex": 0, "grid": false, "labelFont": "Liberation Sans", "labelFontSize": 10, "labelColor": "black", "tickColor": "black", "tickSize": 4, "domainColor": "black", "labelPadding": 2, "labelOverlap": false, "labelFlush": false},
    "axisX": {"labelAlign": "left", "labelBaseline": "top", "labelDx": 1, "labelBound": false},
    "axisY": {"labelBaseline": "middle"}
  }
}
